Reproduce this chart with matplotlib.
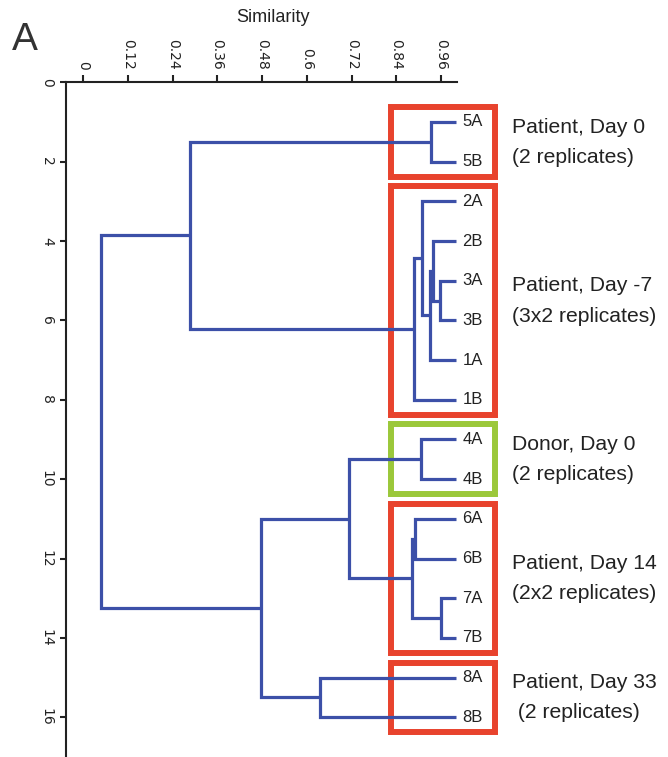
import matplotlib
matplotlib.use("Agg")
import matplotlib.pyplot as plt
import matplotlib.patches as mpatches
import numpy as np

# leaf order from top to bottom
leaves = ["5A", "5B", "2A", "2B", "3A", "3B", "1A", "1B",
          "4A", "4B", "6A", "6B", "7A", "7B", "8A", "8B"]
leaf_sim = 1.0

# merges -> new clusters c1..c15
merge_left = ["5A", "3A", "2B", "c3", "2A", "c5", "c1", "4A",
              "6A", "7A", "c9", "c8", "8A", "c12", "c7"]
merge_right = ["5B", "3B", "c2", "1A", "c4", "1B", "c6", "4B",
               "6B", "7B", "c10", "c11", "8B", "c13", "c14"]
merge_sim = [0.933, 0.956, 0.937, 0.930, 0.908, 0.886, 0.287, 0.906,
             0.889, 0.959, 0.881, 0.714, 0.635, 0.477, 0.047]

# groups boxed on the right
group_first = ["5A", "2A", "4A", "6A", "8A"]
group_last = ["5B", "1B", "4B", "7B", "8B"]
group_title = ["Patient, Day 0", "Patient, Day -7", "Donor, Day 0",
               "Patient, Day 14", "Patient, Day 33"]
group_sub = ["(2 replicates)", "(3x2 replicates)", "(2 replicates)",
             "(2x2 replicates)", " (2 replicates)"]
group_color = ["#e8432d", "#e8432d", "#9bc83a", "#e8432d", "#e8432d"]

x_ticks = [0, 0.12, 0.24, 0.36, 0.48, 0.6, 0.72, 0.84, 0.96]
x_ticklabels = ["0", "0.12", "0.24", "0.36", "0.48", "0.6", "0.72", "0.84", "0.96"]
y_ticks = [0, 2, 4, 6, 8, 10, 12, 14, 16]

blue = "#3c50a8"
axcol = "#222222"

fig = plt.figure(figsize=(6.68, 7.57), dpi=100)
ax = fig.add_axes([0.0984, 0.0, 0.586, 0.8913])

# positions of nodes
pos = {}
sim = {}
for i, name in enumerate(leaves):
    pos[name] = i + 1
    sim[name] = leaf_sim

for k in range(len(merge_sim)):
    a, b, s = merge_left[k], merge_right[k], merge_sim[k]
    new = "c%d" % (k + 1)
    ya, yb = pos[a], pos[b]
    ax.plot([sim[a], s, s, sim[b]], [ya, ya, yb, yb], color=blue, lw=2.3,
            solid_joinstyle="miter", solid_capstyle="butt")
    pos[new] = (ya + yb) / 2
    sim[new] = s

# leaf labels
for name in leaves:
    ax.text(1.017, pos[name], name, fontsize=12, va="center", ha="left",
            family=["Liberation Sans Narrow", "Liberation Sans"],
            color="#222222", clip_on=False)

# boxes and group labels
pad = 0.38
for g in range(len(group_title)):
    y0 = pos[group_first[g]] - pad
    y1 = pos[group_last[g]] + pad
    rect = mpatches.Rectangle((0.826, y0), 1.105 - 0.826, y1 - y0, fill=False,
                              edgecolor=group_color[g], lw=4.3, clip_on=False,
                              joinstyle="miter")
    ax.add_patch(rect)
    yc = (y0 + y1) / 2
    ax.text(1.15, yc - 0.37, group_title[g], fontsize=15.2, va="center",
            ha="left", family="Liberation Sans", color="#222222", clip_on=False)
    ax.text(1.15, yc + 0.39, group_sub[g], fontsize=15.2, va="center",
            ha="left", family="Liberation Sans", color="#222222", clip_on=False)

ax.set_xlim(-0.047, 1.003)
ax.set_ylim(17.0, 0)
ax.xaxis.tick_top()
ax.set_xticks(x_ticks)
ax.set_xticklabels(x_ticklabels)
ax.set_yticks(y_ticks)
ax.tick_params(axis="x", labelrotation=270, length=5, width=1.5, pad=4,
               labelsize=10, color=axcol, labelcolor="#222222")
ax.tick_params(axis="y", labelrotation=270, length=4.5, width=1.5, pad=4,
               labelsize=10, color=axcol, labelcolor="#222222")
for lab in ax.get_yticklabels():
    lab.set_verticalalignment("center")
    lab.set_horizontalalignment("right")
ax.spines["right"].set_visible(False)
ax.spines["bottom"].set_visible(False)
ax.spines["top"].set_linewidth(1.5)
ax.spines["left"].set_linewidth(1.5)
ax.spines["top"].set_color(axcol)
ax.spines["left"].set_color(axcol)

fig.text(273 / 668, 1 - 18 / 757, "Similarity", fontsize=13,
         family=["Liberation Sans Narrow", "Liberation Sans"],
         ha="center", va="center", color="#222222")
fig.text(0.018, 1 - 40 / 757, "A", fontsize=28, family="Liberation Sans",
         ha="left", va="center", color="#333333")

fig.savefig("out.png", dpi=100)
